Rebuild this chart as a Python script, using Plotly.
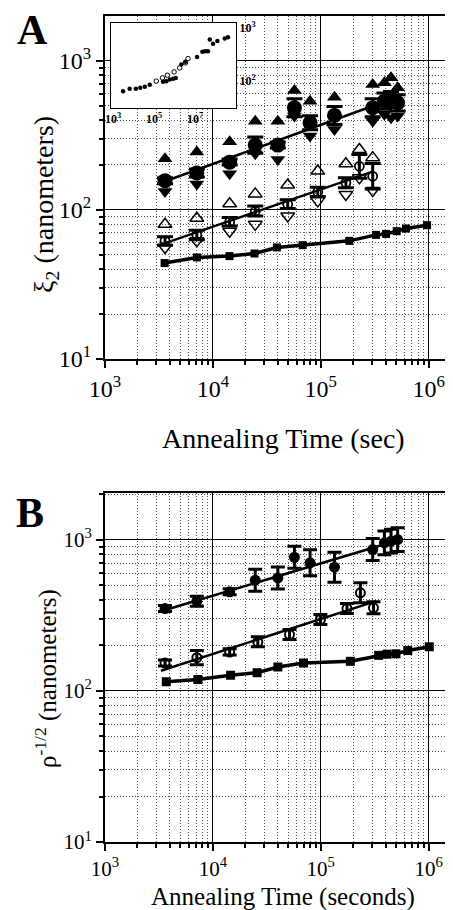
import plotly.graph_objects as go

# ---------------- Panel A data ----------------
t_sq = [3570, 7110, 14260, 24300, 39200, 68000, 184000, 325000, 403000, 506000, 617000, 967000]
xi_sq = [44, 48, 49, 51, 56, 58, 62, 68, 69, 72, 75, 79]

t_fill_A = [3600, 7100, 14300, 24700, 40000, 57000, 79600, 134000, 303000, 389000, 448000, 516000]
xi_fill = [157, 177, 209, 272, 272, 484, 384, 430, 484, 536, 550, 522]
xi_fill_ep = [7, 11, 10, 36, 13, 72, 44, 64, 72, 71, 73, 69]
xi_fill_em = [7, 11, 9, 32, 12, 63, 39, 56, 63, 63, 64, 61]
xi_up = [220, 244, 286, 393, 393, 632, 536, 570, 693, 711, 769, 659]
xi_down = [133, 149, 175, 238, 218, 426, 313, 346, 393, 437, 414, 426]

t_open_A = [3600, 7100, 14300, 24700, 49400, 93800, 171000, 228000, 303000]
xi_open = [62, 68, 83, 98, 109, 132, 152, 196, 168]
xi_open_ep = [4, 5, 6, 8, 8, 10, 12, 39, 37]
xi_open_em = [4, 5, 5, 7, 7, 9, 11, 33, 30]
xi_up_open = [80, 88, 110, 128, 147, 182, 204, 254, 224]
xi_down_open = [56, 62, 72, 80, 91, 115, 127, 164, 135]

fitA_fill_t = [3300, 303000]
fitA_fill_y = [152, 497]
fitA_open_t = [3300, 297000]
fitA_open_y = [58.5, 180]

# ---------------- Inset data ----------------
ins_t_fill = [3090, 6460, 12900, 21400, 35500, 61700, 275000, 398000, 589000, 851000, 1150000,
              2140000, 3390000, 12600000, 22900000, 31600000, 42700000, 52500000, 75900000,
              123000000, 282000000, 407000000]
ins_v_fill = [64, 71, 71, 74, 78, 85, 96, 99, 106, 110, 114,
              204, 229, 282, 355, 363, 363, 603, 500, 562, 628, 667]
ins_t_open = [129000, 257000, 447000, 955000, 1780000, 3390000, 4570000]
ins_v_open = [99, 114, 128, 148, 176, 219, 263]

# ---------------- Panel B data ----------------
t_sq_B = [3700, 7260, 14600, 25700, 40000, 69200, 188000, 344000, 411000, 498000, 640000, 1014000]
rho_sq = [115, 119, 127, 132, 144, 153, 157, 172, 175, 176, 185, 196]

t_fill_B = [3600, 7100, 14300, 24700, 40000, 57000, 79600, 134000, 303000, 389000, 448000, 516000]
rho_fill = [351, 393, 453, 541, 560, 767, 705, 659, 863, 955, 980, 1004]
rho_fill_ep = [17, 31, 21, 99, 102, 140, 154, 169, 158, 191, 196, 200]
rho_fill_em = [16, 29, 20, 84, 87, 119, 127, 135, 134, 159, 163, 167]

t_open_B = [3600, 7100, 14300, 26100, 51300, 99300, 175000, 233000, 308000]
rho_open = [153, 166, 181, 211, 236, 297, 351, 446, 355]
rho_open_ep = [7, 19, 9, 17, 19, 23, 28, 74, 34]
rho_open_em = [7, 17, 8, 15, 17, 22, 26, 63, 31]

fitB_fill_t = [3300, 420000]
fitB_fill_y = [337, 950]
fitB_open_t = [3300, 325000]
fitB_open_y = [136, 393]

# tick definitions
x_major = [1e3, 1e4, 1e5, 1e6]
x_major_text = ["10<sup>3</sup>", "10<sup>4</sup>", "10<sup>5</sup>", "10<sup>6</sup>"]
y_major = [1e1, 1e2, 1e3]
y_major_text = ["10<sup>1</sup>", "10<sup>2</sup>", "10<sup>3</sup>"]
x_minor = [m * 10 ** e for e in range(3, 7) for m in range(2, 10)]
y_minor = [m * 10 ** e for e in range(1, 4) for m in range(2, 10)]

SERIF = "Liberation Serif, Times New Roman, serif"

fig = go.Figure()


def err(ep, em, th=2.5, w=6):
    return dict(type="data", array=ep, arrayminus=em, symmetric=False,
                color="black", thickness=th, width=w)


# ---- Panel A traces ----
fig.add_trace(go.Scatter(x=fitA_fill_t, y=fitA_fill_y, mode="lines",
                         line=dict(color="black", width=2.5), xaxis="x", yaxis="y"))
fig.add_trace(go.Scatter(x=fitA_open_t, y=fitA_open_y, mode="lines",
                         line=dict(color="black", width=2.5), xaxis="x", yaxis="y"))
fig.add_trace(go.Scatter(x=t_sq, y=xi_sq, mode="lines+markers",
                         line=dict(color="black", width=3.5),
                         marker=dict(symbol="square", size=8, color="black"),
                         xaxis="x", yaxis="y"))
fig.add_trace(go.Scatter(x=t_fill_A, y=xi_up, mode="markers",
                         marker=dict(symbol="triangle-up", size=13, color="black"),
                         xaxis="x", yaxis="y"))
fig.add_trace(go.Scatter(x=t_fill_A, y=xi_down, mode="markers",
                         marker=dict(symbol="triangle-down", size=13, color="black"),
                         xaxis="x", yaxis="y"))
fig.add_trace(go.Scatter(x=t_fill_A, y=xi_fill, mode="markers",
                         marker=dict(symbol="circle", size=15, color="black"),
                         error_y=err(xi_fill_ep, xi_fill_em, 3, 8),
                         xaxis="x", yaxis="y"))
fig.add_trace(go.Scatter(x=t_open_A, y=xi_up_open, mode="markers",
                         marker=dict(symbol="triangle-up-open", size=12, color="black",
                                     line=dict(width=1.5)),
                         xaxis="x", yaxis="y"))
fig.add_trace(go.Scatter(x=t_open_A, y=xi_down_open, mode="markers",
                         marker=dict(symbol="triangle-down-open", size=12, color="black",
                                     line=dict(width=1.5)),
                         xaxis="x", yaxis="y"))
fig.add_trace(go.Scatter(x=t_open_A, y=xi_open, mode="markers",
                         marker=dict(symbol="circle-open", size=9, color="black",
                                     line=dict(width=1.8)),
                         error_y=err(xi_open_ep, xi_open_em, 3, 8),
                         xaxis="x", yaxis="y"))

# ---- Inset traces ----
fig.add_trace(go.Scatter(x=ins_t_fill, y=ins_v_fill, mode="markers",
                         marker=dict(symbol="circle", size=4.5, color="black"),
                         xaxis="x3", yaxis="y3"))
fig.add_trace(go.Scatter(x=ins_t_open, y=ins_v_open, mode="markers",
                         marker=dict(symbol="circle-open", size=4.5, color="black",
                                     line=dict(width=1)),
                         xaxis="x3", yaxis="y3"))

# ---- Panel B traces ----
fig.add_trace(go.Scatter(x=fitB_fill_t, y=fitB_fill_y, mode="lines",
                         line=dict(color="black", width=2.5), xaxis="x2", yaxis="y2"))
fig.add_trace(go.Scatter(x=fitB_open_t, y=fitB_open_y, mode="lines",
                         line=dict(color="black", width=2.5), xaxis="x2", yaxis="y2"))
fig.add_trace(go.Scatter(x=t_sq_B, y=rho_sq, mode="lines+markers",
                         line=dict(color="black", width=3.5),
                         marker=dict(symbol="square", size=9, color="black"),
                         xaxis="x2", yaxis="y2"))
fig.add_trace(go.Scatter(x=t_fill_B, y=rho_fill, mode="markers",
                         marker=dict(symbol="circle", size=11, color="black"),
                         error_y=err(rho_fill_ep, rho_fill_em, 3, 7),
                         xaxis="x2", yaxis="y2"))
fig.add_trace(go.Scatter(x=t_open_B, y=rho_open, mode="markers",
                         marker=dict(symbol="circle-open", size=9, color="black",
                                     line=dict(width=2)),
                         error_y=err(rho_open_ep, rho_open_em, 3, 7),
                         xaxis="x2", yaxis="y2"))

MINOR_DASH = "1px,2px"


def main_x(anchor, fs):
    return dict(type="log", range=[3, 6.3], anchor=anchor,
                tickmode="array", tickvals=x_major, ticktext=x_major_text,
                tickfont=dict(family=SERIF, size=fs, color="black"),
                showline=True, linecolor="black", linewidth=2, mirror=True,
                ticks="outside", ticklen=7, tickwidth=2, tickcolor="black",
                showgrid=True, gridcolor="black", gridwidth=1,
                minor=dict(tickmode="array", tickvals=x_minor, ticks="outside",
                           ticklen=4, tickwidth=1.5, tickcolor="black",
                           showgrid=True, gridcolor="#555555", griddash=MINOR_DASH, gridwidth=1),
                zeroline=False)


def main_y(anchor, dom, rng, fs):
    return dict(type="log", range=rng, anchor=anchor, domain=dom,
                tickmode="array", tickvals=y_major, ticktext=y_major_text,
                tickfont=dict(family=SERIF, size=fs, color="black"),
                showline=True, linecolor="black", linewidth=2, mirror=False,
                ticks="outside", ticklen=7, tickwidth=2, tickcolor="black",
                showgrid=True, gridcolor="black", gridwidth=1,
                minor=dict(tickmode="array", tickvals=y_minor, ticks="outside",
                           ticklen=4, tickwidth=1.5, tickcolor="black",
                           showgrid=True, gridcolor="#555555", griddash=MINOR_DASH, gridwidth=1),
                zeroline=False)


ins_x_vals = [1e3, 1e5, 1e7]
ins_x_text = ["<b>10<sup>3</sup></b>", "<b>10<sup>5</sup></b>", "<b>10<sup>7</sup></b>"]
ins_y_vals = [1e2, 1e3]
ins_y_text = ["<b>10<sup>2</sup></b>", "<b>10<sup>3</sup></b>"]

fig.update_layout(
    width=453, height=910,
    margin=dict(l=97, r=0, t=8, b=76),
    paper_bgcolor="white", plot_bgcolor="white",
    showlegend=False,
    font=dict(family=SERIF, color="black"),
    xaxis=main_x("y", 24),
    yaxis=main_y("x", [0.5847, 1.0], [1, 3.3], 24),
    xaxis2=main_x("y2", 21),
    yaxis2=main_y("x2", [0.0, 0.4225], [1, 3.31], 21),
    xaxis3=dict(type="log", range=[2.9, 9.0], anchor="y3", domain=[0.0169, 0.368],
                tickmode="array", tickvals=ins_x_vals, ticktext=ins_x_text,
                tickfont=dict(family=SERIF, size=12, color="black"),
                showline=True, linecolor="black", linewidth=1, mirror=True,
                ticks="", showgrid=False, zeroline=False),
    yaxis3=dict(type="log", range=[1.49, 3.09], anchor="x3", domain=[0.8886, 0.9915],
                side="right",
                tickmode="array", tickvals=ins_y_vals, ticktext=ins_y_text,
                tickfont=dict(family=SERIF, size=12, color="black"),
                showline=True, linecolor="black", linewidth=1, mirror=True,
                ticks="", showgrid=False, zeroline=False),
)

ann = [
    dict(text="<b>A</b>", x=-0.205, y=0.983, font=dict(size=42)),
    dict(text="<b>B</b>", x=-0.21, y=0.3983, font=dict(size=42)),
    dict(text="ξ<sub>2</sub> (nanometers)", x=-0.166, y=0.7724, textangle=-90, font=dict(size=28)),
    dict(text="Annealing Time (sec)", x=0.5, y=0.489, font=dict(size=28)),
    dict(text="ρ<sup>-1/2</sup> (nanometers)", x=-0.166, y=0.1985, textangle=-90, font=dict(size=25)),
    dict(text="Annealing Time (seconds)", x=0.5, y=-0.0666, font=dict(size=25)),
]
for a in ann:
    a.update(xref="paper", yref="paper", xanchor="center", yanchor="middle",
             showarrow=False, borderpad=0)
    a["font"].update(family=SERIF, color="black")
fig.update_layout(annotations=ann)

fig.write_html("out.html")
